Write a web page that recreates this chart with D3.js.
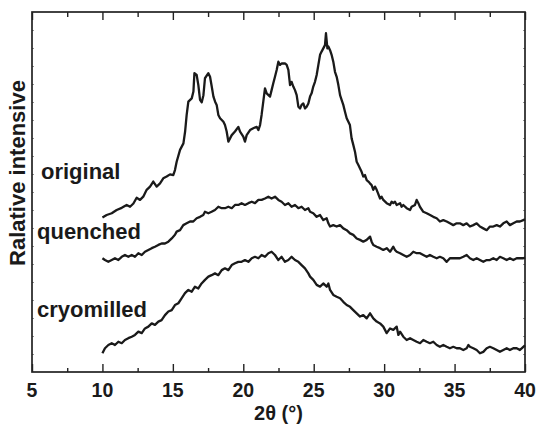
<!DOCTYPE html>
<html>
<head>
<meta charset="utf-8">
<script src="https://cdn.jsdelivr.net/npm/d3@7"></script>
<style>
  body { margin: 0; background: #fff; }
  svg { display: block; font-family: "Liberation Sans", Arial, Helvetica, sans-serif; font-weight: bold; }
</style>
</head>
<body>
<div id="chart"></div>
<script>
// x-ray diffraction patterns, offsets (relative units 0..100)
var original = [[10.0,42.9],[10.3,43.6],[10.66,44.1],[11.01,45],[11.37,45.6],[11.72,46.4],[11.96,45.9],[12.2,46.8],[12.43,48.4],[12.67,47.8],[12.9,48.7],[13.14,50.6],[13.38,51.5],[13.61,52.9],[13.85,51.5],[14.09,52.4],[14.32,53.8],[14.56,54.3],[14.8,54.9],[15.03,54.7],[15.15,56.1],[15.27,58.4],[15.51,61.7],[15.75,63.5],[15.87,66.8],[15.98,71.4],[16.1,75.1],[16.34,76],[16.46,77.9],[16.53,83],[16.69,82.5],[16.81,79.7],[16.93,75.6],[17.05,74.9],[17.17,76.9],[17.28,81.6],[17.52,83],[17.64,82],[17.76,79.3],[17.88,76.5],[18.0,75.1],[18.11,74.2],[18.23,71.4],[18.35,70.5],[18.59,69.5],[18.7,68.6],[18.82,66.8],[18.94,64],[19.06,64.9],[19.18,65.8],[19.41,66.8],[19.65,68.1],[19.77,66.8],[20.0,65.4],[20.12,64],[20.24,65.8],[20.48,67.2],[20.71,67.7],[20.95,68.1],[21.07,67.2],[21.19,68.6],[21.3,71.4],[21.42,75.1],[21.54,78.8],[21.66,77.4],[21.9,76.5],[22.01,78.3],[22.13,80.2],[22.25,82],[22.37,83.9],[22.49,86.2],[22.61,85.3],[22.72,85.7],[22.96,85.7],[23.08,85.3],[23.2,83.9],[23.32,79.7],[23.43,80.6],[23.55,79.3],[23.67,78.3],[23.79,76.9],[23.91,73.7],[24.03,73.2],[24.14,74.2],[24.26,74.6],[24.38,73.2],[24.5,73.7],[24.62,74.6],[24.74,76.5],[24.85,77.4],[24.97,79.3],[25.09,80.6],[25.21,82.5],[25.33,85.3],[25.45,88.1],[25.56,89],[25.68,89.9],[25.8,90.8],[25.87,94.1],[25.97,89.9],[26.04,90.4],[26.16,89.4],[26.27,88.1],[26.39,86.2],[26.51,83.4],[26.63,82],[26.75,79.7],[26.87,76.9],[26.98,75.6],[27.1,74.2],[27.22,72.3],[27.34,70.5],[27.46,69.5],[27.57,68.6],[27.69,64.9],[27.81,63.1],[27.93,61.2],[28.05,58.4],[28.17,57.5],[28.28,56.6],[28.4,55.6],[28.52,54.3],[28.64,54.7],[28.76,53.3],[28.88,52.9],[28.99,52.4],[29.11,51.9],[29.23,50.6],[29.35,51.5],[29.47,50.6],[29.71,48.2],[29.82,48.7],[29.94,47.8],[30.18,46.9],[30.42,46.4],[30.53,47.3],[30.65,46.9],[30.77,47.3],[30.89,46.4],[31.13,46.9],[31.24,45.9],[31.36,46.4],[31.6,45.5],[31.84,45],[31.95,45.9],[32.19,46.4],[32.31,47.8],[32.43,46.9],[32.54,45.9],[32.78,44.5],[33.02,44.1],[33.26,43.6],[33.49,43.1],[33.73,42.7],[33.96,41.8],[34.2,42.2],[34.44,41.8],[34.67,41.3],[34.91,40.8],[35.15,41.3],[35.38,41.3],[35.62,40.8],[35.86,41.3],[36.09,40.4],[36.33,40.8],[36.57,41.3],[36.8,40.4],[37.04,39.9],[37.28,39.4],[37.51,40.4],[37.75,40.4],[37.99,40.8],[38.22,40.4],[38.46,41.3],[38.7,41.8],[38.93,40.8],[39.17,41.3],[39.41,41.8],[39.64,41.8],[39.88,42.2],[40.0,42.4]];

var quenched = [[10.0,31.6],[10.18,31.1],[10.42,30.6],[10.66,31.1],[10.89,31.6],[11.13,31.1],[11.37,32],[11.6,32.5],[11.84,32],[12.08,32.5],[12.31,32],[12.55,33],[12.79,32.5],[13.02,33.4],[13.26,33.9],[13.5,34.4],[13.73,34.8],[13.97,35.3],[14.2,35.7],[14.44,35.7],[14.68,36.2],[14.92,37.1],[15.15,38.1],[15.27,39],[15.51,39.4],[15.74,40.8],[15.98,41.3],[16.22,41.8],[16.45,41.8],[16.69,42.7],[16.93,43.1],[17.16,43.6],[17.28,44.5],[17.52,44.1],[17.75,44.5],[17.99,45],[18.23,45.9],[18.47,45.5],[18.7,45.5],[18.94,45.9],[19.18,45.5],[19.41,46.4],[19.65,46.4],[19.88,46.9],[20.12,46.4],[20.36,46.9],[20.6,47.3],[20.83,46.9],[21.07,47.8],[21.3,47.8],[21.54,48.2],[21.78,48.7],[22.01,48.2],[22.25,48.7],[22.49,47.8],[22.72,47.3],[22.96,46.4],[23.2,46.9],[23.43,45.9],[23.67,46.4],[23.91,45.5],[24.14,45.9],[24.38,45],[24.62,45.5],[24.74,44.5],[24.97,44.1],[25.21,43.1],[25.45,43.6],[25.68,42.2],[25.92,42.7],[26.04,41.3],[26.16,40.4],[26.39,40.8],[26.63,40.4],[26.87,40.8],[27.1,39.9],[27.34,39.4],[27.58,38.5],[27.81,38.1],[28.05,37.1],[28.29,36.7],[28.52,36.2],[28.76,36.7],[29.0,37.6],[29.11,36.2],[29.23,35.3],[29.47,34.8],[29.71,34.4],[29.94,33.9],[30.18,34.4],[30.42,33.4],[30.65,34.8],[30.77,33.9],[30.89,33.4],[31.13,33],[31.36,32.5],[31.6,32],[31.84,32.5],[32.07,33.4],[32.31,33],[32.55,33],[32.78,32.5],[33.02,32],[33.25,32.5],[33.49,32],[33.73,31.6],[33.96,32],[34.2,31.6],[34.44,30.6],[34.67,31.6],[34.91,31.6],[35.15,31.6],[35.38,31.6],[35.62,32],[35.86,32.5],[36.09,31.6],[36.33,31.1],[36.57,31.6],[36.8,31.1],[37.04,30.6],[37.28,31.1],[37.51,31.1],[37.75,31.6],[37.99,31.1],[38.22,32],[38.46,31.6],[38.7,31.1],[38.93,31.6],[39.17,31.1],[39.41,31.6],[39.64,31.6],[39.88,31.6],[40.0,31.8]];

var cryomilled = [[10.0,5.2],[10.18,6.6],[10.42,7.5],[10.66,8],[10.89,7.5],[11.13,8.4],[11.37,8],[11.6,8.9],[11.84,9.4],[12.08,9.8],[12.31,10.3],[12.55,11.2],[12.79,10.8],[13.02,12.1],[13.26,12.6],[13.5,13.5],[13.73,13.1],[13.97,14],[14.2,14.4],[14.44,15.8],[14.68,16.8],[14.92,17.2],[15.15,18.6],[15.39,19.1],[15.63,20.5],[15.86,21.9],[16.1,22.8],[16.34,22.3],[16.57,23.7],[16.81,23.2],[17.04,24.6],[17.28,25.6],[17.52,26.5],[17.75,26.9],[17.99,27.4],[18.23,26.9],[18.47,28.3],[18.7,28.8],[18.94,28.3],[19.18,29.7],[19.41,30.2],[19.65,30.6],[19.88,30.6],[20.12,31.1],[20.36,30.6],[20.6,31.6],[20.83,32],[21.07,31.6],[21.3,32.5],[21.54,32],[21.78,33],[22.01,33.4],[22.25,32.5],[22.49,31.1],[22.72,32],[22.96,30.6],[23.2,31.1],[23.43,32],[23.67,31.1],[23.91,30.6],[24.14,29.7],[24.38,28.8],[24.62,27.4],[24.74,26.5],[24.97,25.6],[25.21,24.2],[25.45,23.7],[25.68,24.6],[25.92,23.7],[26.04,24.6],[26.16,22.8],[26.39,21.4],[26.63,20.9],[26.87,20.5],[27.1,19.5],[27.34,18.6],[27.58,18.1],[27.81,17.2],[28.05,16.3],[28.29,15.4],[28.52,15.8],[28.76,14.9],[29.0,16.3],[29.23,14.9],[29.47,14],[29.71,13.5],[29.94,12.6],[30.18,10.8],[30.42,12.1],[30.65,11.7],[30.89,12.6],[31.01,10.3],[31.13,11.2],[31.36,9.8],[31.6,8.9],[31.84,9.4],[32.07,8.9],[32.31,8.4],[32.55,8],[32.78,8.9],[33.02,8.4],[33.25,8],[33.49,8.4],[33.73,7.5],[33.96,7],[34.2,7.5],[34.44,7],[34.67,6.6],[34.91,7],[35.15,6.6],[35.38,6.6],[35.62,6.1],[35.86,6.6],[35.98,7.5],[36.09,7],[36.33,6.6],[36.57,6.1],[36.8,5.2],[37.04,5.6],[37.28,6.6],[37.51,7],[37.75,6.6],[37.99,6.1],[38.22,5.6],[38.46,6.1],[38.7,6.6],[38.93,6.1],[39.17,6.6],[39.41,6.6],[39.64,6.1],[39.88,7],[40.0,7.4]];

var seriesNames = ["original", "quenched", "cryomilled"];
var xTicks = [5, 10, 15, 20, 25, 30, 35, 40];
var xMinor = [7.5, 12.5, 17.5, 22.5, 27.5, 32.5, 37.5];
var yMinor = [5, 10, 15, 20, 25, 30, 35, 40, 45, 50, 55, 60, 65, 70, 75, 80, 85, 90, 95];

var W = 537, H = 434;
var margin = {top: 12, right: 12, bottom: 62, left: 32};
var w = W - margin.left - margin.right,
    h = H - margin.top - margin.bottom;

var svg = d3.select("#chart").append("svg")
    .attr("width", W)
    .attr("height", H);

var g = svg.append("g")
    .attr("transform", "translate(" + margin.left + "," + margin.top + ")");

var x = d3.scaleLinear().domain([5, 40]).range([0, w]);
var y = d3.scaleLinear().domain([0, 100]).range([h, 0]);

function noDomain(a) { a.select(".domain").remove(); }

// inward ticks on all four sides
g.append("g").attr("class", "tk")
    .attr("transform", "translate(0," + h + ")")
    .call(d3.axisBottom(x).tickValues(xTicks).tickSize(-8).tickFormat(""))
    .call(noDomain);
g.append("g").attr("class", "tk")
    .attr("transform", "translate(0," + h + ")")
    .call(d3.axisBottom(x).tickValues(xMinor).tickSize(-4).tickFormat(""))
    .call(noDomain);
g.append("g").attr("class", "tk")
    .call(d3.axisTop(x).tickValues(xTicks).tickSize(-8).tickFormat(""))
    .call(noDomain);
g.append("g").attr("class", "tk")
    .call(d3.axisTop(x).tickValues(xMinor).tickSize(-5).tickFormat(""))
    .call(noDomain);
g.selectAll(".tk .tick line").attr("stroke", "#222").attr("stroke-width", 1.4);

// faint tiny marks on the intensity sides
g.append("g").attr("class", "yk")
    .call(d3.axisLeft(y).tickValues(yMinor).tickSize(-2).tickFormat(""))
    .call(noDomain);
g.append("g").attr("class", "yk")
    .attr("transform", "translate(" + w + ",0)")
    .call(d3.axisRight(y).tickValues(yMinor).tickSize(-2).tickFormat(""))
    .call(noDomain);
g.selectAll(".yk .tick line").attr("stroke", "#777").attr("stroke-width", 0.8);

// frame
g.append("rect")
    .attr("width", w)
    .attr("height", h)
    .attr("fill", "none")
    .attr("stroke", "#222")
    .attr("stroke-width", 1.7);

// tick labels
g.selectAll(".xlab")
    .data(xTicks)
    .enter().append("text")
    .attr("class", "xlab")
    .attr("x", function(d) { return x(d); })
    .attr("y", h + 25)
    .attr("text-anchor", "middle")
    .style("font-size", "19.5px")
    .style("fill", "#1a1a1a")
    .text(function(d) { return d; });

var line = d3.line()
    .x(function(d) { return x(d[0]); })
    .y(function(d) { return y(d[1]); });

[original, quenched, cryomilled].forEach(function(s) {
    g.append("path")
        .datum(s)
        .attr("d", line)
        .attr("fill", "none")
        .attr("stroke", "#1a1a1a")
        .attr("stroke-width", 2.3)
        .attr("stroke-linejoin", "round");
});

// curve labels
var labelPos = [[9, 167], [5, 227], [5, 305]];
g.selectAll(".slab")
    .data(seriesNames)
    .enter().append("text")
    .attr("class", "slab")
    .attr("x", function(d, i) { return labelPos[i][0]; })
    .attr("y", function(d, i) { return labelPos[i][1]; })
    .style("font-size", "22px")
    .style("fill", "#1a1a1a")
    .text(function(d) { return d; });

// axis titles
svg.append("text")
    .attr("x", margin.left + w / 2)
    .attr("y", 420)
    .attr("text-anchor", "middle")
    .style("font-size", "20px")
    .style("fill", "#1a1a1a")
    .text("2θ (°)");

svg.append("text")
    .attr("transform", "translate(25," + 173 + ") rotate(-90)")
    .attr("text-anchor", "middle")
    .style("font-size", "22px")
    .style("fill", "#1a1a1a")
    .text("Ralative intensive");
</script>
</body>
</html>
